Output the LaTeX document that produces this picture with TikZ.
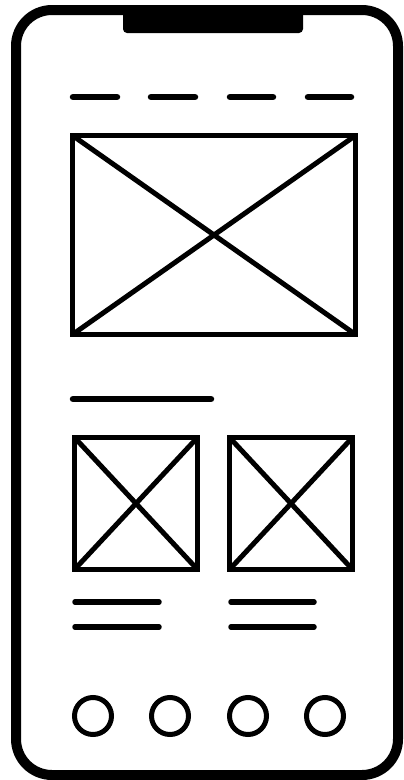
\documentclass[tikz,border=0pt]{standalone}
\begin{document}
\begin{tikzpicture}[x=1pt,y=-1pt,
  frame/.style={line width=10pt,rounded corners=36pt},
  imgbox/.style={line width=5pt},
  txtline/.style={line width=6.5pt,line cap=round},
  smallline/.style={line width=5.5pt,line cap=round},
  dot/.style={line width=5pt}]
\useasboundingbox (0,0) rectangle (404,780);
\fill[white] (0,0) rectangle (404,780);
% phone body
\draw[frame] (16,10) rectangle (398,775);
% notch
\fill[black] (123,8) -- (303,8) [rounded corners=4pt] -- (303,33) -- (123,33) [sharp corners] -- cycle;
% header dashes
\foreach \a/\b in {73/117,151/195,230/273,308/351}
  \draw[txtline] (\a,97) -- (\b,97);
% hero image
\draw[imgbox] (72.5,135.5) rectangle (355.5,334.5);
\draw[imgbox] (72.5,135.5) -- (355.5,334.5) (72.5,334.5) -- (355.5,135.5);
% title line
\draw[txtline] (73,399) -- (211,399);
% small images
\foreach \l/\r in {74.5/197.5,229.5/352.5}{
  \draw[imgbox] (\l,437.5) rectangle (\r,569.5);
  \draw[imgbox] (\l,437.5) -- (\r,569.5) (\l,569.5) -- (\r,437.5);
}
% caption lines
\foreach \a/\b in {75/159,231/314}{
  \draw[smallline] (\a,602) -- (\b,602);
  \draw[smallline] (\a,627) -- (\b,627);
}
% nav dots
\foreach \cx in {93,170,248,325}
  \draw[dot] (\cx,716) circle (18.5);
\end{tikzpicture}
\end{document}
